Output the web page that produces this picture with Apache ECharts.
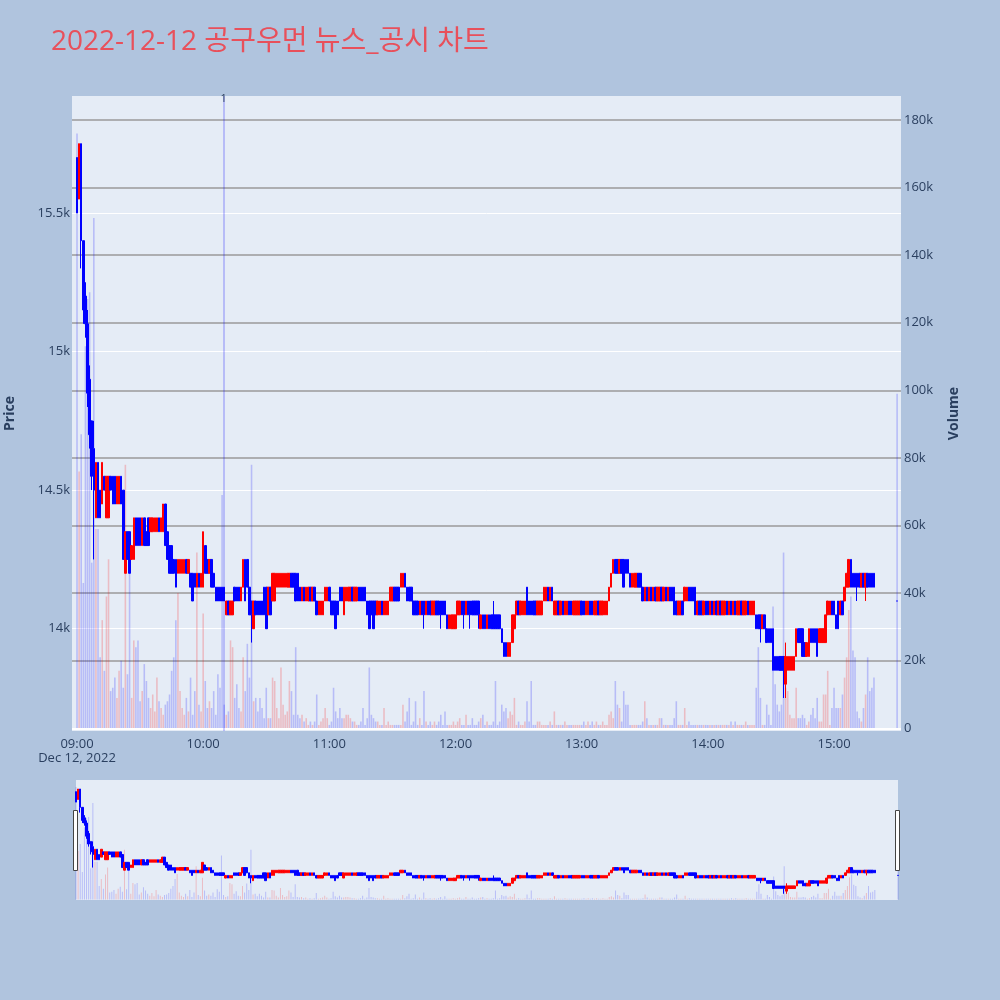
<!DOCTYPE html>
<html><head><meta charset="utf-8">
<script src="https://cdn.jsdelivr.net/npm/echarts@6/dist/echarts.min.js"></script>
<style>html,body{margin:0;padding:0;background:#B0C4DE;}#c{width:1000px;height:1000px;}</style>
</head><body><div id="c"></div>
<script>
const titleText = '2022-12-12 공구우먼 뉴스_공시 차트';
const dateLabel = 'Dec 12, 2022';
const newsMinutes = [69.7];
const newsLabels = ['1'];

// minutes since 09:00
const minutes = [
0,1,2,3,4,5,6,7,8,9,10,11,12,13,14,15,16,17,18,19,
20,21,22,23,24,25,26,27,28,29,30,31,32,33,34,35,36,37,38,39,
40,41,42,43,44,45,46,47,48,49,50,51,52,53,54,55,56,57,58,59,
60,61,62,63,64,65,66,67,68,69,70,71,72,73,74,75,76,77,78,79,
80,81,82,83,84,85,86,87,88,89,90,91,92,93,94,95,96,97,98,99,
100,101,102,103,104,105,106,107,108,109,110,111,112,113,114,115,116,117,118,119,
120,121,122,123,124,125,126,127,128,129,130,131,132,133,134,135,136,137,138,139,
140,141,142,143,144,145,146,147,148,149,150,151,152,153,154,155,156,157,158,159,
160,161,162,163,164,165,166,167,168,169,170,171,172,173,174,175,176,177,178,179,
180,181,182,183,184,185,186,187,188,189,190,191,192,193,194,195,196,197,198,199,
200,201,202,203,204,205,206,207,208,209,210,211,212,213,214,215,216,217,218,219,
220,221,222,223,224,225,226,227,228,229,230,231,232,233,234,235,236,237,238,239,
240,241,242,243,244,245,246,247,248,249,250,251,252,253,254,255,256,257,258,259,
260,261,262,263,264,265,266,267,268,269,270,271,272,273,274,275,276,277,278,279,
280,281,282,283,284,285,286,287,288,289,290,291,292,293,294,295,296,297,298,299,
300,301,302,303,304,305,306,307,308,309,310,311,312,313,314,315,316,317,318,319,
320,321,322,323,324,325,326,327,328,329,330,331,332,333,334,335,336,337,338,339,
340,341,342,343,344,345,346,347,348,349,350,351,352,353,354,355,356,357,358,359,
360,361,362,363,364,365,366,367,368,369,370,371,372,373,374,375,376,377,378,379,
390];

const opens = [
15700,15550,15750,15400,15200,15100,14900,14750,14650,14400,
14600,14500,14450,14550,14400,14400,14550,14550,14550,14450,
14450,14550,14500,14200,14350,14350,14250,14250,14400,14400,
14400,14300,14400,14350,14400,14350,14350,14350,14350,14400,
14350,14350,14450,14350,14300,14300,14250,14250,14200,14200,
14200,14200,14250,14200,14200,14200,14200,14150,14200,14150,
14150,14300,14250,14200,14250,14200,14150,14150,14150,14150,
14150,14050,14100,14050,14050,14150,14150,14150,14100,14150,
14250,14250,14150,14100,14000,14100,14100,14100,14100,14150,
14150,14050,14150,14100,14100,14150,14150,14150,14150,14150,
14150,14150,14200,14200,14200,14200,14150,14100,14150,14100,
14100,14150,14100,14150,14100,14050,14050,14050,14100,14100,
14150,14100,14100,14100,14100,14150,14150,14050,14100,14100,
14100,14150,14100,14100,14150,14150,14150,14150,14100,14100,
14100,14100,14100,14050,14050,14100,14050,14050,14050,14100,
14100,14150,14150,14150,14150,14150,14200,14150,14150,14150,
14100,14100,14100,14050,14100,14100,14050,14100,14100,14050,
14050,14100,14100,14100,14100,14100,14050,14000,14000,14000,
14000,14050,14050,14100,14100,14050,14100,14100,14100,14100,
14100,14100,14000,14050,14050,14000,14050,14050,14050,14050,
14050,14050,14000,13950,13950,13900,13900,13950,14000,14050,
14100,14050,14050,14050,14150,14100,14100,14100,14100,14050,
14050,14050,14100,14100,14150,14100,14150,14050,14050,14100,
14050,14100,14050,14050,14100,14100,14050,14050,14050,14050,
14100,14100,14050,14050,14100,14100,14050,14050,14100,14050,
14050,14050,14050,14100,14150,14200,14250,14250,14200,14250,
14250,14250,14250,14200,14150,14150,14150,14200,14200,14150,
14100,14150,14100,14150,14100,14150,14100,14100,14150,14100,
14150,14100,14150,14150,14150,14100,14050,14050,14100,14100,
14100,14150,14150,14150,14150,14050,14100,14100,14050,14100,
14100,14050,14100,14050,14100,14050,14100,14050,14050,14100,
14050,14100,14050,14100,14050,14050,14100,14050,14050,14100,
14050,14050,14050,14050,14050,14050,14000,14050,14000,14000,
14000,14000,13900,13900,13900,13900,13900,13800,13850,13850,
13850,13850,13900,14000,14000,14000,13950,13900,13900,14000,
14000,14000,14000,13950,13950,13950,13950,14050,14050,14100,
14100,14050,14100,14050,14100,14100,14150,14150,14250,14200,
14200,14200,14200,14150,14200,14150,14200,14200,14200,14200,
14100];

const closes = [
15500,15750,15400,15150,15100,14850,14700,14550,14500,14600,
14400,14400,14600,14500,14550,14550,14500,14450,14450,14550,
14550,14450,14250,14350,14250,14200,14300,14400,14300,14300,
14300,14400,14300,14300,14300,14400,14400,14400,14400,14350,
14400,14450,14300,14250,14200,14200,14200,14150,14250,14250,
14250,14250,14200,14250,14150,14100,14150,14200,14150,14200,
14350,14200,14200,14250,14150,14150,14100,14100,14100,14100,
14100,14100,14050,14100,14100,14100,14100,14100,14150,14250,
14100,14150,14050,14050,14100,14050,14050,14050,14050,14050,
14000,14150,14050,14200,14200,14200,14200,14200,14200,14200,
14200,14200,14150,14150,14100,14100,14100,14150,14100,14150,
14150,14100,14150,14100,14050,14100,14100,14100,14150,14150,
14100,14050,14050,14000,14050,14100,14100,14150,14150,14150,
14150,14100,14150,14150,14100,14100,14100,14100,14050,14000,
14050,14000,14050,14100,14100,14050,14100,14100,14100,14150,
14150,14100,14100,14100,14200,14200,14150,14100,14100,14100,
14050,14050,14050,14100,14050,14050,14100,14050,14050,14100,
14100,14050,14050,14050,14050,14050,14000,14050,14050,14050,
14050,14100,14100,14050,14050,14100,14050,14050,14050,14050,
14050,14050,14050,14000,14000,14050,14000,14000,14000,14000,
14000,14000,13950,13900,13900,13950,13950,14050,14050,14100,
14050,14100,14100,14100,14050,14050,14050,14050,14050,14100,
14100,14100,14150,14150,14100,14150,14100,14100,14100,14050,
14100,14050,14100,14100,14050,14050,14100,14100,14100,14100,
14050,14050,14100,14100,14050,14050,14100,14100,14050,14100,
14100,14100,14100,14150,14200,14250,14200,14200,14250,14200,
14150,14200,14200,14150,14200,14200,14200,14150,14150,14100,
14150,14100,14150,14100,14150,14100,14150,14150,14100,14150,
14100,14150,14100,14100,14050,14050,14100,14100,14050,14150,
14150,14100,14100,14100,14050,14100,14050,14050,14100,14050,
14050,14100,14050,14100,14050,14100,14050,14100,14100,14050,
14100,14050,14100,14050,14100,14100,14050,14100,14100,14050,
14100,14100,14100,14000,14000,14000,14050,14000,13950,13950,
13950,13850,13850,13850,13850,13850,13850,13900,13900,13900,
13900,13900,14000,13950,13950,13900,13900,13950,14000,13950,
13950,13950,13900,14000,14000,14000,14050,14100,14100,14050,
14050,14000,14000,14100,14050,14150,14200,14250,14150,14150,
14150,14150,14150,14200,14150,14200,14150,14150,14150,14150,
14100];

const lows = [
15500,15550,15300,15100,15050,14800,14650,14500,14250,14400,
14400,14400,14450,14500,14400,14400,14500,14450,14450,14450,
14450,14450,14250,14200,14250,14200,14250,14250,14300,14300,
14300,14300,14300,14300,14300,14350,14350,14350,14350,14350,
14350,14350,14300,14250,14200,14200,14200,14150,14200,14200,
14200,14200,14200,14200,14150,14100,14150,14150,14150,14150,
14150,14200,14200,14200,14150,14150,14100,14100,14100,14100,
14100,14050,14050,14050,14050,14100,14100,14100,14100,14150,
14100,14150,14050,13950,14000,14050,14050,14050,14050,14050,
14000,14050,14050,14100,14100,14150,14150,14150,14150,14150,
14150,14150,14150,14150,14100,14100,14100,14100,14100,14100,
14100,14100,14100,14100,14050,14050,14050,14050,14100,14100,
14100,14050,14050,14000,14050,14100,14100,14050,14100,14100,
14100,14100,14100,14100,14100,14100,14100,14100,14050,14000,
14050,14000,14050,14050,14050,14050,14050,14050,14050,14100,
14100,14100,14100,14100,14150,14150,14150,14100,14100,14100,
14050,14050,14050,14050,14050,14000,14050,14050,14050,14050,
14050,14050,14050,14000,14050,14050,14000,14000,14000,14000,
14000,14050,14050,14050,14000,14050,14050,14000,14050,14050,
14050,14000,14000,14000,14000,14000,14000,14000,14000,14000,
14000,14000,13950,13900,13900,13900,13900,13950,14000,14050,
14050,14050,14050,14050,14050,14050,14050,14050,14050,14050,
14050,14050,14100,14100,14100,14100,14100,14050,14050,14050,
14050,14050,14050,14050,14050,14050,14050,14050,14050,14050,
14050,14050,14050,14050,14050,14050,14050,14050,14050,14050,
14050,14050,14050,14100,14150,14200,14200,14200,14200,14200,
14150,14200,14200,14150,14150,14150,14150,14150,14150,14100,
14100,14100,14100,14100,14100,14100,14100,14100,14100,14100,
14100,14100,14100,14100,14050,14050,14050,14050,14050,14100,
14100,14100,14100,14100,14050,14050,14050,14050,14050,14050,
14050,14050,14050,14050,14050,14050,14050,14050,14050,14050,
14050,14050,14050,14050,14050,14050,14050,14050,14050,14050,
14050,14050,14050,14000,14000,13950,14000,14000,13950,13950,
13950,13850,13850,13850,13850,13850,13750,13750,13850,13850,
13850,13850,13900,13950,13950,13900,13900,13900,13900,13950,
13950,13950,13900,13950,13950,13950,13950,14050,14050,14050,
14050,14000,14000,14050,14050,14100,14150,14150,14150,14150,
14150,14100,14150,14150,14150,14100,14150,14150,14150,14150,
14100];

const highs = [
15700,15750,15750,15400,15250,15150,14950,14750,14750,14600,
14600,14500,14600,14550,14550,14550,14550,14550,14550,14550,
14550,14550,14500,14350,14350,14350,14300,14400,14400,14400,
14400,14400,14400,14350,14400,14400,14400,14400,14400,14400,
14400,14450,14450,14350,14300,14300,14250,14250,14250,14250,
14250,14250,14250,14250,14200,14200,14200,14200,14200,14200,
14350,14300,14250,14250,14250,14200,14150,14150,14150,14150,
14150,14100,14100,14100,14100,14150,14150,14150,14150,14250,
14250,14250,14150,14100,14100,14100,14100,14100,14100,14150,
14150,14150,14150,14200,14200,14200,14200,14200,14200,14200,
14200,14200,14200,14200,14200,14200,14150,14150,14150,14150,
14150,14150,14150,14150,14100,14100,14100,14100,14150,14150,
14150,14100,14100,14100,14100,14150,14150,14150,14150,14150,
14150,14150,14150,14150,14150,14150,14150,14150,14100,14100,
14100,14100,14100,14100,14100,14100,14100,14100,14100,14150,
14150,14150,14150,14150,14200,14200,14200,14150,14150,14150,
14100,14100,14100,14100,14100,14100,14100,14100,14100,14100,
14100,14100,14100,14100,14100,14100,14050,14050,14050,14050,
14050,14100,14100,14100,14100,14100,14100,14100,14100,14100,
14100,14100,14050,14050,14050,14050,14050,14050,14100,14050,
14050,14050,14000,13950,13950,13950,13950,14050,14050,14100,
14100,14100,14100,14100,14150,14100,14100,14100,14100,14100,
14100,14100,14150,14150,14150,14150,14150,14100,14100,14100,
14100,14100,14100,14100,14100,14100,14100,14100,14100,14100,
14100,14100,14100,14100,14100,14100,14100,14100,14100,14100,
14100,14100,14100,14150,14200,14250,14250,14250,14250,14250,
14250,14250,14250,14200,14200,14200,14200,14200,14200,14150,
14150,14150,14150,14150,14150,14150,14150,14150,14150,14150,
14150,14150,14150,14150,14150,14100,14100,14100,14100,14150,
14150,14150,14150,14150,14150,14100,14100,14100,14100,14100,
14100,14100,14100,14100,14100,14100,14100,14100,14100,14100,
14100,14100,14100,14100,14100,14100,14100,14100,14100,14100,
14100,14100,14100,14050,14050,14050,14050,14050,14000,14000,
14000,14000,13900,13900,13900,13900,13900,13950,13900,13900,
13900,13900,14000,14000,14000,14000,13950,13950,14000,14000,
14000,14000,14000,14000,14000,14000,14050,14100,14100,14100,
14100,14050,14100,14100,14100,14150,14200,14250,14250,14200,
14200,14200,14200,14200,14200,14200,14200,14200,14200,14200,
14100];

const volumes = [
176000,76000,87000,43000,113000,127000,129000,49000,151000,59000,
59000,21000,32000,17000,39000,50000,11000,12000,15000,9000,
17000,20000,12000,78000,16000,56000,9000,26000,24000,26000,
8000,11000,19000,14000,9000,6000,10000,5000,15000,8000,
6000,4000,7000,8000,10000,17000,21000,32000,40000,11000,
6000,4000,9000,5000,15000,4000,11000,52000,7000,5000,
34000,14000,6000,8000,6000,11000,4000,16000,12000,69000,
7000,4000,5000,26000,24000,9000,13000,6000,5000,21000,
11000,25000,15000,78000,8000,9000,5000,9000,6000,3000,
12000,3000,3000,15000,14000,6000,3000,18000,7000,4000,
5000,14000,11000,4000,24000,4000,3000,4000,2000,3000,
1000,2000,1000,2000,10000,1000,2000,3000,6000,3000,
1000,2000,12000,5000,3000,6000,3000,3000,4000,4000,
3000,2000,2000,1000,1000,2000,6000,1000,3000,18000,
4000,3000,2000,2000,1000,1000,6000,1000,2000,1000,
1000,1000,1000,1000,1000,7000,2000,5000,9000,1000,
2000,8000,1000,3000,1000,11000,2000,1000,2000,1000,
2000,1000,2000,4000,1000,5000,1000,1000,1000,2000,
1000,2000,3000,1000,1000,4000,1000,1000,3000,1000,
1000,2000,3000,4000,1000,2000,1000,1000,2000,14000,
1000,2000,7000,5000,6000,3000,5000,4000,9000,1000,
2000,1000,1000,2000,8000,2000,14000,1000,1000,2000,
2000,1000,1000,1000,1000,2000,1000,5000,1000,1000,
1000,1000,2000,1000,1000,1000,1000,1000,1000,1000,
1000,2000,1000,2000,1000,2000,1000,2000,1000,1000,
2000,1000,1000,4000,5000,3000,14000,7000,6000,2000,
11000,7000,7000,1000,1000,1000,1000,1000,1000,2000,
8000,3000,1000,1000,1000,1000,1000,3000,3000,1000,
1000,1000,1000,1000,3000,8000,1000,1000,1000,6000,
1000,2000,1000,1000,1000,1000,1000,1000,1000,1000,
1000,1000,1000,1000,1000,1000,1000,1000,1000,1000,
1000,2000,1000,2000,1000,1000,1000,1000,2000,1000,
1000,1000,1000,12000,24000,9000,1000,1000,7000,4000,
1000,36000,13000,7000,5000,7000,52000,12000,11000,4000,
3000,3000,12000,3000,3000,4000,3000,1000,2000,4000,
6000,3000,9000,2000,2000,10000,10000,17000,1000,6000,
12000,6000,6000,6000,10000,15000,21000,35000,39000,23000,
21000,5000,3000,2000,6000,10000,21000,11000,12000,15000,
99000];

const UP = '#FF0000', DOWN = '#0000FF';
const UP_VOL = 'rgba(255,0,0,0.2)', DOWN_VOL = 'rgba(0,0,255,0.2)';
const TXT = '#2a3f5f';
const FONT = '"Open Sans", "Noto Sans CJK KR", sans-serif';
const PRICE_MIN = 13631, PRICE_MAX = 15922;
const VOL_MIN = -800, VOL_MAX = 187070;
const X_MIN = -2.38, X_MAX = 391.85;

const candleData = minutes.map((m, i) => [m, opens[i], closes[i], lows[i], highs[i]]);
const volData = minutes.map((m, i) => ({
  value: [m, volumes[i]],
  itemStyle: { color: closes[i] > opens[i] ? UP_VOL : DOWN_VOL }
}));

function timeLabel(v) {
  const h = 9 + Math.floor(v / 60), mm = v % 60;
  const s = String(h).padStart(2, '0') + ':' + String(mm).padStart(2, '0');
  return v === 0 ? s + '\n' + dateLabel : s;
}
const kLabel = v => v === 0 ? '0' : (v / 1000) + 'k';

const chart = echarts.init(document.getElementById('c'), null, { renderer: 'canvas' });
chart.setOption({
  backgroundColor: '#B0C4DE',
  animation: false,
  title: {
    text: titleText, left: 46, top: 23,
    textStyle: { color: '#E8505B', fontSize: 28, fontWeight: 'normal', fontFamily: FONT }
  },
  grid: [
    { left: 72, right: 99, top: 96, bottom: 269, show: true, backgroundColor: '#E5ECF6', borderWidth: 0, containLabel: false, outerBoundsMode: 'none' },
    { left: 76, right: 102, top: 780, bottom: 100, show: true, backgroundColor: '#E5ECF6', borderWidth: 0, containLabel: false, outerBoundsMode: 'none' }
  ],
  xAxis: [
    {
      type: 'value', gridIndex: 0, min: X_MIN, max: X_MAX, minInterval: 60, maxInterval: 60,
      axisLine: { show: false }, axisTick: { show: false }, splitLine: { show: false },
      axisLabel: { formatter: timeLabel, showMinLabel: false, showMaxLabel: false, color: TXT,
        fontSize: 13, fontFamily: FONT, margin: 6, lineHeight: 14 }
    },
    { type: 'value', gridIndex: 1, min: 0, max: 390, show: false }
  ],
  yAxis: [
    {
      type: 'value', gridIndex: 0, position: 'left', min: PRICE_MIN, max: PRICE_MAX,
      minInterval: 500, maxInterval: 500,
      name: 'Price', nameLocation: 'middle', nameRotate: 90, nameGap: 55,
      nameTextStyle: { color: TXT, fontSize: 14, fontWeight: 'bold', fontFamily: FONT },
      axisLine: { show: false }, axisTick: { show: false },
      splitLine: { show: true, showMinLine: false, showMaxLine: false, lineStyle: { color: '#ffffff', width: 1 } },
      axisLabel: { formatter: kLabel, showMinLabel: false, showMaxLabel: false, color: TXT, fontSize: 13, fontFamily: FONT, margin: 2 }
    },
    {
      type: 'value', gridIndex: 0, position: 'right', min: VOL_MIN, max: VOL_MAX,
      minInterval: 20000, maxInterval: 20000,
      name: 'Volume', nameLocation: 'middle', nameRotate: 90, nameGap: 46,
      nameTextStyle: { color: TXT, fontSize: 14, fontWeight: 'bold', fontFamily: FONT },
      axisLine: { show: false }, axisTick: { show: false },
      splitLine: { show: true, showMinLine: false, showMaxLine: false, lineStyle: { color: '#9a9a9a', width: 1.5 } },
      axisLabel: { formatter: kLabel, showMinLabel: false, showMaxLabel: false, color: TXT, fontSize: 13, fontFamily: FONT, margin: 3 }
    },
    { type: 'value', gridIndex: 1, min: PRICE_MIN, max: PRICE_MAX, show: false, splitLine: { show: false } },
    { type: 'value', gridIndex: 1, min: VOL_MIN, max: VOL_MAX, show: false, splitLine: { show: false } }
  ],
  series: [
    {
      type: 'bar', name: 'Volume', xAxisIndex: 0, yAxisIndex: 1, data: volData,
      barWidth: 1.6, z: 1,
      markLine: {
        silent: true, symbol: ['none', 'none'], animation: false,
        data: [
          { yAxis: 0, lineStyle: { color: '#ffffff', width: 2, type: 'solid' }, label: { show: false } },
          ...newsMinutes.map((m, i) => ({
            xAxis: m,
            lineStyle: { color: 'rgba(0,0,255,0.2)', width: 2, type: 'solid' },
            label: { show: true, position: 'end', formatter: newsLabels[i], color: TXT, fontSize: 11, fontFamily: FONT, distance: -8 }
          }))
        ]
      }
    },
    {
      type: 'candlestick', name: 'Price', xAxisIndex: 0, yAxisIndex: 0, data: candleData,
      encode: { x: 0, y: [1, 2, 3, 4] },
      barWidth: 2, z: 3,
      itemStyle: { color: UP, color0: DOWN, borderColor: UP, borderColor0: DOWN, borderColorDoji: DOWN, borderWidth: 1 }
    },
    {
      type: 'bar', xAxisIndex: 1, yAxisIndex: 3, data: volData, barWidth: 1, z: 1, silent: true
    },
    {
      type: 'candlestick', xAxisIndex: 1, yAxisIndex: 2, data: candleData,
      encode: { x: 0, y: [1, 2, 3, 4] }, barWidth: 2, z: 3, silent: true,
      itemStyle: { color: UP, color0: DOWN, borderColor: UP, borderColor0: DOWN, borderColorDoji: DOWN, borderWidth: 1 }
    }
  ],
  graphic: [
    { type: 'rect', left: 73, top: 810, shape: { width: 4, height: 60 }, style: { fill: '#ffffff', stroke: '#444444', lineWidth: 1 }, z: 10 },
    { type: 'rect', left: 895, top: 810, shape: { width: 4, height: 60 }, style: { fill: '#ffffff', stroke: '#444444', lineWidth: 1 }, z: 10 }
  ]
});
</script>
</body></html>
